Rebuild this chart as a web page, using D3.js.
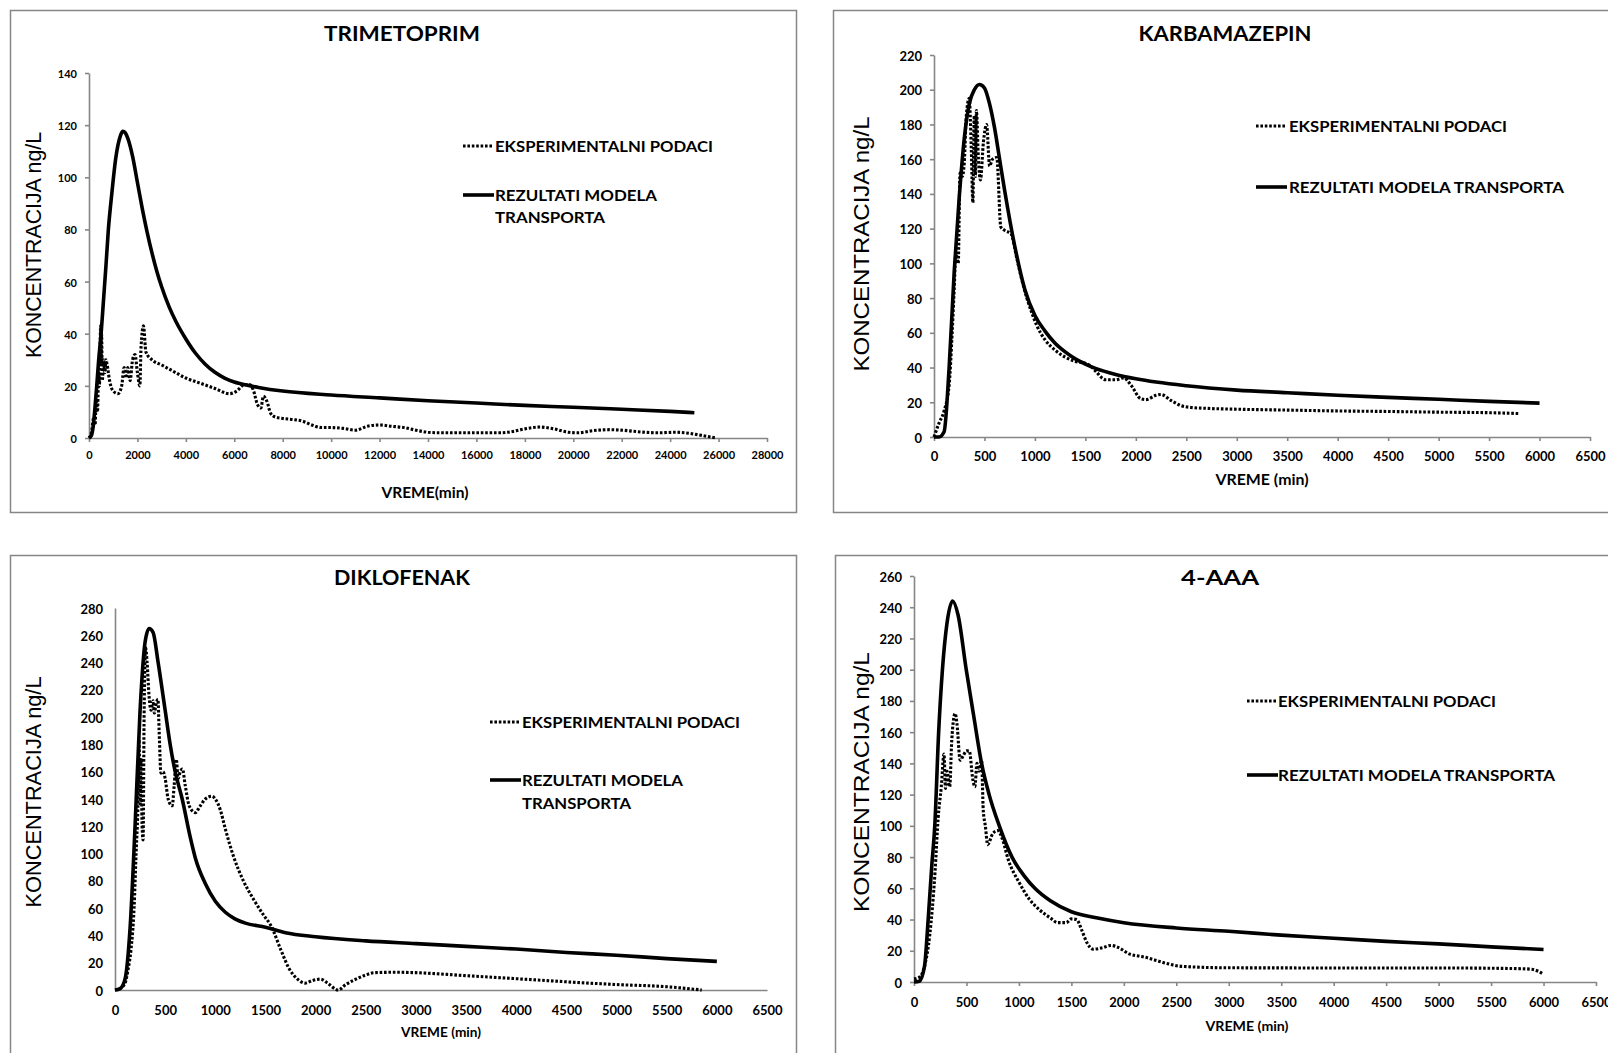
<!DOCTYPE html>
<html>
<head>
<meta charset="utf-8">
<script src="https://cdn.jsdelivr.net/npm/d3@7"></script>
<style>
  body { margin: 0; background: #fff; }
  svg { display: block; }
</style>
</head>
<body>
<svg id="chart" width="1608" height="1053"></svg>
<script>
// ---- labels ----
const titles = ["TRIMETOPRIM", "KARBAMAZEPIN", "DIKLOFENAK", "4-AAA"];
const legendExp = "EKSPERIMENTALNI PODACI";
const legendModel = "REZULTATI MODELA TRANSPORTA";
const yTitle = "KONCENTRACIJA ng/L";
const xTitles = ["VREME(min)", "VREME (min)", "VREME (min)", "VREME (min)"];

// ---- axis ticks ----
const trimXTicks = d3.range(0, 28001, 2000);
const trimYTicks = d3.range(0, 141, 20);
const karbXTicks = d3.range(0, 6501, 500);
const karbYTicks = d3.range(0, 221, 20);
const diklXTicks = d3.range(0, 6501, 500);
const diklYTicks = d3.range(0, 281, 20);
const aaaXTicks = d3.range(0, 6501, 500);
const aaaYTicks = d3.range(0, 261, 20);

// ---- TRIMETOPRIM ----
const trimExpT = [0,100,200,250,300,350,400,430,460,480,500,520,550,600,650,700,750,850,1000,1200,1350,1450,1550,1600,1700,1800,1900,2000,2100,2150,2250,2350,2600,3000,3400,4000,4600,5200,5800,6100,6420,6630,6800,6950,7100,7200,7350,7500,7700,8000,8500,8800,9200,9600,10000,10500,11000,11500,12000,12500,13000,13500,14000,14500,16000,17000,17500,18000,18600,19200,19800,20200,20800,21500,22000,22800,23500,24200,24800,25300,25900];
const trimExpC = [0,2,8,5,15,10,25,20,35,43,28,40,22,30,25,30,28,22,18,17,20,27,23,27,22,30,32,25,20,35,43,33,30,28,26,23,21,19,17,18,20.5,20.5,18,13,11.5,16,14,9.5,8,7.5,7,6.5,5,4,4,3.7,3,4.5,5,4.5,4,3,2.2,2,2,2,2.5,3.5,4.2,3.5,2.2,2,2.8,3.2,3,2.3,2,2.2,1.8,1,0];
const trimModT = [0,100,180,250,320,400,500,600,700,800,900,1000,1100,1200,1300,1400,1500,1600,1800,2000,2200,2400,2600,2800,3000,3300,3600,4000,4400,4800,5200,5600,6000,6500,7000,8000,10000,12000,14000,16000,18000,20000,22000,24000,25000];
const trimModC = [0,1,5,12,20,30,40,53,66,80,90,99,107,112.5,116,117.6,117,115,108,98,88,79,71,64,58,50.5,44.5,38,32.5,28.3,25.2,23,21.5,20.3,19.4,18,16.5,15.4,14.3,13.4,12.5,11.8,11,10.2,9.7];

// ---- KARBAMAZEPIN ----
const karbExpT = [0,50,100,150,180,200,217,240,258,280,300,320,349,370,385,399,410,420,440,460,490,521,551,580,622,662,700,763,820,864,920,966,1020,1100,1200,1300,1400,1500,1550,1600,1700,1800,1880,1950,2050,2100,2200,2250,2350,2450,2550,2700,3000,3500,4000,4500,5000,5500,5800];
const karbExpC = [0,8,15,30,60,85,106,100,152,150,158,185,195,165,135,185,150,188,160,148,170,180,156,160,161,121,119,117,103,92,80,72,64,56,50,46,43.5,42.5,41,38,33,33,34,30,22,21.5,24,24.5,21,18,17,16.5,16,15.5,15,14.7,14.3,14,13.5];
const karbModT = [0,50,100,150,200,250,300,350,400,450,500,550,600,650,700,800,900,1000,1100,1200,1300,1400,1500,1600,1800,2000,2500,3000,3500,4000,4500,5000,5500,6000];
const karbModC = [0,0,3,40,95,138,172,192,200,203,201,192,178,160,142,110,85,70,61,54,49,45,42,39.5,36,33.5,29.5,27,25.5,24,22.8,21.7,20.5,19.5];

// ---- DIKLOFENAK ----
const diklExpT = [0,50,100,130,160,190,210,230,240,250,260,270,280,290,305,320,340,360,380,392,410,428,440,458,480,500,530,570,590,611,630,650,672,700,740,800,850,900,967,1000,1050,1100,1181,1280,1385,1480,1563,1650,1741,1820,1894,1970,2047,2120,2225,2300,2403,2500,2581,2800,3000,3500,4000,4500,5000,5500,5850];
const diklExpC = [0,1,5,15,30,60,100,140,184,135,170,120,110,200,251,240,215,205,212,203,210,213,190,159,160,155,140,135,150,169,155,160,162,150,135,130,135,140,142,140,132,118,98,80,66,55,46,30,15,8,5,7,8,5,0,4,8,11,12.7,13,12.7,10.5,8.3,6,4,2.4,0];
const diklModT = [0,50,100,150,200,250,300,340,380,430,500,550,600,670,750,800,900,1000,1100,1200,1300,1500,1700,2000,2500,3000,3500,4000,4500,5000,5500,6000];
const diklModC = [0,1,8,45,120,205,255,265,262,240,205,180,160,140,112,97,78,65,57,52,49,46,42,39,36,34,32,30,27.5,25.5,23,21];

// ---- 4-AAA ----
const aaaExpT = [0,50,100,150,200,230,260,286,300,315,340,360,392,410,440,470,500,527,560,580,600,620,644,660,680,702,750,799,840,900,1000,1100,1200,1300,1370,1450,1500,1550,1600,1650,1708,1800,1878,1950,2050,2150,2192,2300,2400,2555,3000,4000,5000,5500,5800,5900,6000];
const aaaExpC = [2,3,10,30,70,105,125,146,124,135,125,155,172,165,142,145,148,148,130,125,140,135,142,110,100,88,95,97,92,78,64,53,46,41,38,38,40.4,40,33,25,21,22,23.4,22,18,16.5,16,14,12,10,9.1,9,9,8.8,8.5,8,5];
const aaaModT = [0,50,100,135,170,198,235,271,315,368,420,498,570,644,716,813,934,1050,1152,1300,1500,1750,2000,2500,3000,3500,4000,4500,5000,5500,6000];
const aaaModC = [0,0.5,10,40,75,100,160,200,230,244,235,200,170,140,120,100,80,68,60,52,45,41,38,34.6,32.5,30,28,26,24.4,22.5,20.8];

// ---- panel layout ----
const panels = [
  { title: titles[0], box: [10, 10, 796, 512], xr: [89, 767], yr: [438, 73], xMax: 28000, yMax: 140,
    xTicks: trimXTicks, yTicks: trimYTicks, tickLen: 4, tickFont: 11, xLabDy: 16,
    exp: [trimExpT, trimExpC], mod: [trimModT, trimModC],
    titleX: 402, titleY: 33, titleLen: 156, xTitle: xTitles[0], xTitleX: 425, xTitleY: 492, xTitleLen: 87, xTitleFont: 15,
    yTitleX: 33, yTitleY: 245, yTitleLen: 226,
    leg: { x0: 463, tx: 495, y1: 146, y2: 195, lines: ["REZULTATI MODELA", "TRANSPORTA"], lens: [162, 110], lh: 22 } },
  { title: titles[1], box: [833, 10, 1640, 512], xr: [934, 1590], yr: [437, 55], xMax: 6500, yMax: 220,
    xTicks: karbXTicks, yTicks: karbYTicks, tickLen: 4, tickFont: 13, xLabDy: 19,
    exp: [karbExpT, karbExpC], mod: [karbModT, karbModC],
    titleX: 1225, titleY: 33, titleLen: 173, xTitle: xTitles[1], xTitleX: 1262, xTitleY: 479, xTitleLen: 93, xTitleFont: 15,
    yTitleX: 861, yTitleY: 244, yTitleLen: 255,
    leg: { x0: 1256, tx: 1289, y1: 126, y2: 187, lines: [legendModel], lens: [275], lh: 22 } },
  { title: titles[2], box: [10, 555, 796, 1070], xr: [115, 767], yr: [990, 608], xMax: 6500, yMax: 280,
    xTicks: diklXTicks, yTicks: diklYTicks, tickLen: 0, tickFont: 13, xLabDy: 20,
    exp: [diklExpT, diklExpC], mod: [diklModT, diklModC],
    titleX: 402, titleY: 577, titleLen: 136, xTitle: xTitles[2], xTitleX: 441, xTitleY: 1031, xTitleLen: 80, xTitleFont: 14,
    yTitleX: 33, yTitleY: 792, yTitleLen: 231,
    leg: { x0: 490, tx: 522, y1: 722, y2: 780, lines: ["REZULTATI MODELA", "TRANSPORTA"], lens: [161, 109], lh: 23 } },
  { title: titles[3], box: [835, 555, 1640, 1070], xr: [914, 1596], yr: [982, 576], xMax: 6500, yMax: 260,
    xTicks: aaaXTicks, yTicks: aaaYTicks, tickLen: 4, tickFont: 13, xLabDy: 20,
    exp: [aaaExpT, aaaExpC], mod: [aaaModT, aaaModC],
    titleX: 1220, titleY: 577, titleLen: 78, xTitle: xTitles[3], xTitleX: 1247, xTitleY: 1025, xTitleLen: 83, xTitleFont: 14,
    yTitleX: 861, yTitleY: 782, yTitleLen: 260,
    leg: { x0: 1247, tx: 1278, y1: 701, y2: 775, lines: [legendModel], lens: [277], lh: 22 } }
];

const svg = d3.select("#chart");
const axisColor = "#868686";
const calibriLike = "Lato, 'Open Sans', 'Liberation Sans', sans-serif";
const dotDash = "2.6,1.8";
const dotWidth = 3.1;
const solidWidth = 3.6;

function fitText(g, str, x, y, len, size, opts = {}) {
  return g.append("text")
    .attr("x", x).attr("y", y)
    .attr("text-anchor", opts.anchor || "start")
    .attr("dominant-baseline", "central")
    .attr("font-family", opts.family || calibriLike)
    .attr("font-weight", opts.weight || "bold")
    .attr("font-size", size)
    .attr("textLength", len)
    .attr("lengthAdjust", "spacingAndGlyphs")
    .attr("fill", "#000")
    .text(str);
}

panels.forEach(p => {
  const g = svg.append("g");
  const [bx0, by0, bx1, by1] = p.box;

  // frame around each chart
  g.append("rect")
    .attr("x", bx0 + 0.5).attr("y", by0 + 0.5)
    .attr("width", bx1 - bx0).attr("height", by1 - by0)
    .attr("fill", "#fff").attr("stroke", axisColor).attr("stroke-width", 1.5);

  const x = d3.scaleLinear().domain([0, p.xMax]).range(p.xr);
  const y = d3.scaleLinear().domain([0, p.yMax]).range(p.yr);

  const xAxis = d3.axisBottom(x).tickValues(p.xTicks).tickFormat(d3.format("d"))
    .tickSize(p.tickLen).tickSizeOuter(0).tickPadding(0);
  const yAxis = d3.axisLeft(y).tickValues(p.yTicks).tickFormat(d3.format("d"))
    .tickSize(p.tickLen).tickSizeOuter(0).tickPadding(12 - p.tickLen);

  const gx = g.append("g").attr("transform", `translate(0,${p.yr[0]})`).call(xAxis);
  const gy = g.append("g").attr("transform", `translate(${p.xr[0]},0)`).call(yAxis);

  [gx, gy].forEach(a => {
    a.select(".domain").attr("stroke", axisColor).attr("stroke-width", 1.6);
    a.selectAll(".tick line").attr("stroke", axisColor).attr("stroke-width", 1.6);
    a.selectAll(".tick text")
      .attr("font-family", calibriLike).attr("font-weight", "bold")
      .attr("font-size", p.tickFont).attr("fill", "#000");
  });
  gx.selectAll(".tick text").attr("y", p.xLabDy).attr("dy", null).attr("dominant-baseline", "central");
  gy.selectAll(".tick text").attr("dy", null).attr("dominant-baseline", "central");

  // series: measured (dotted) and model (solid)
  const expData = p.exp[0].map((t, i) => [t, p.exp[1][i]]);
  const modData = p.mod[0].map((t, i) => [t, p.mod[1][i]]);

  const line = d3.line().x(d => x(d[0])).y(d => y(d[1])).curve(d3.curveMonotoneX);

  g.append("path").attr("d", line(expData))
    .attr("fill", "none").attr("stroke", "#000").attr("stroke-width", dotWidth)
    .attr("stroke-dasharray", dotDash);
  g.append("path").attr("d", line(modData))
    .attr("fill", "none").attr("stroke", "#000").attr("stroke-width", solidWidth)
    .attr("stroke-linejoin", "round");

  // titles
  fitText(g, p.title, p.titleX, p.titleY, p.titleLen, 20, { anchor: "middle" });
  fitText(g, p.xTitle, p.xTitleX, p.xTitleY, p.xTitleLen, p.xTitleFont, { anchor: "middle" });
  fitText(g, yTitle, 0, 0, p.yTitleLen, 22, { anchor: "middle", family: "'Liberation Sans', Arial, sans-serif", weight: "normal" })
    .attr("transform", `translate(${p.yTitleX},${p.yTitleY}) rotate(-90)`);

  // legend
  const L = p.leg;
  g.append("line").attr("x1", L.x0).attr("x2", L.x0 + 29).attr("y1", L.y1).attr("y2", L.y1)
    .attr("stroke", "#000").attr("stroke-width", dotWidth).attr("stroke-dasharray", dotDash);
  fitText(g, legendExp, L.tx, L.y1, 218, 15);
  g.append("line").attr("x1", L.x0).attr("x2", L.x0 + 31).attr("y1", L.y2).attr("y2", L.y2)
    .attr("stroke", "#000").attr("stroke-width", solidWidth);
  L.lines.forEach((ln, i) => fitText(g, ln, L.tx, L.y2 + i * L.lh, L.lens[i], 15));
});
</script>
</body>
</html>
